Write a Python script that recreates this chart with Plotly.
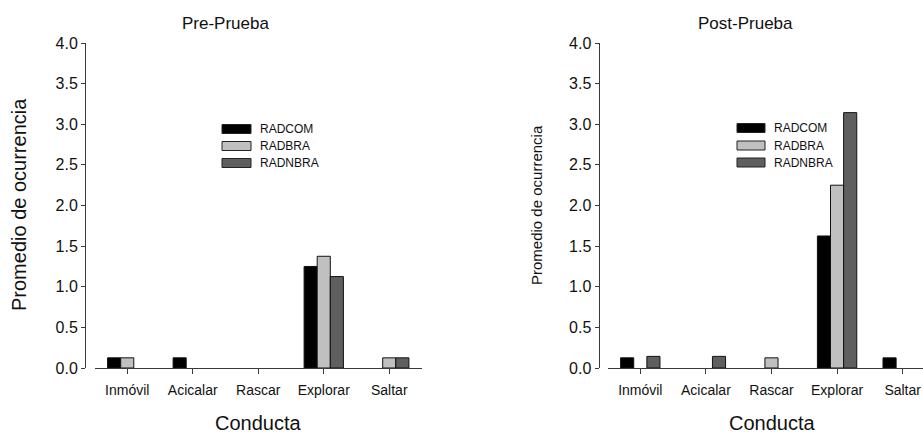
import plotly.graph_objects as go

W, H = 923, 434

# Behaviour categories
conductas = ["Inmóvil", "Acicalar", "Rascar", "Explorar", "Saltar"]
grupos = ["RADCOM", "RADBRA", "RADNBRA"]

# Mean occurrence per group, pre-test
pre_radcom = [0.125, 0.125, 0.0, 1.25, 0.0]
pre_radbra = [0.125, 0.0, 0.0, 1.375, 0.125]
pre_radnbra = [0.0, 0.0, 0.0, 1.125, 0.125]

# Mean occurrence per group, post-test
post_radcom = [0.125, 0.0, 0.0, 1.625, 0.125]
post_radbra = [0.0, 0.0, 0.125, 2.25, 0.0]
post_radnbra = [0.143, 0.143, 0.0, 3.143, 0.0]

y_ticks = [0, 0.5, 1.0, 1.5, 2.0, 2.5, 3.0, 3.5, 4.0]

colores = ["#000000", "#c0c0c0", "#5f5f5f"]
FONT = "Arial, Liberation Sans, sans-serif"
AXC = "#3a3a3a"


def px_x(x):
    return x / W


def px_y(y):
    return 1 - y / H


fig = go.Figure()

idx = list(range(len(conductas)))


def barras(series, xa, ya):
    for serie, nombre, col in zip(series, grupos, colores):
        # no outline on empty bars so they vanish into the baseline
        widths = [1 if v > 0 else 0 for v in serie]
        fig.add_trace(go.Bar(x=idx, y=serie, name=nombre,
                             marker=dict(color=col, line=dict(color="#111111", width=widths)),
                             xaxis=xa, yaxis=ya, showlegend=False))


barras([pre_radcom, pre_radbra, pre_radnbra], "x", "y")
barras([post_radcom, post_radbra, post_radnbra], "x2", "y2")

y_dom = [px_y(368), px_y(43)]

xcommon = dict(showline=True, linecolor=AXC, linewidth=1, ticks="outside", ticklen=5, tickcolor=AXC,
               tickvals=idx, ticktext=conductas, tickfont=dict(family=FONT, size=14, color="#111"),
               ticklabelstandoff=4, showgrid=False, zeroline=False, fixedrange=True, automargin=False)
ycommon = dict(range=[0, 4], tickvals=y_ticks, ticktext=[f"{v:.1f}" for v in y_ticks], showline=True,
               linecolor=AXC, linewidth=1, ticks="outside", ticklen=4, tickcolor=AXC,
               tickfont=dict(family=FONT, size=16, color="#111"), showgrid=False, zeroline=False,
               domain=y_dom, anchor="free", automargin=False, fixedrange=True)

fig.update_layout(
    width=W, height=H, autosize=False,
    margin=dict(l=0, r=0, t=0, b=0, pad=0, autoexpand=False),
    paper_bgcolor="white", plot_bgcolor="white",
    barmode="group", bargap=0.4, bargroupgap=0,
    xaxis=dict(domain=[px_x(94.5), px_x(422)], range=[-0.5, 4.5], anchor="y", **xcommon),
    yaxis=dict(position=px_x(85), **ycommon),
    xaxis2=dict(domain=[px_x(607.5), 1.0], range=[-0.5, 4.31], anchor="y2", **xcommon),
    yaxis2=dict(position=px_x(598.5), **ycommon),
)

ann = []
# panel titles
ann.append(dict(text="Pre-Prueba", x=px_x(225), y=px_y(24), font=dict(size=17)))
ann.append(dict(text="Post-Prueba", x=px_x(745), y=px_y(24), font=dict(size=17)))
# x titles
ann.append(dict(text="Conducta", x=px_x(258), y=px_y(423), font=dict(size=20)))
ann.append(dict(text="Conducta", x=px_x(772), y=px_y(423), font=dict(size=20)))
# y titles
ann.append(dict(text="Promedio de ocurrencia", x=px_x(19), y=px_y(205), textangle=-90, font=dict(size=20)))
ann.append(dict(text="Promedio de ocurrencia", x=px_x(536), y=px_y(205), textangle=-90, font=dict(size=15)))

shapes = []
# legend keys for each panel
for bx0, bx1, tx, rows in [(222, 251, 258, [129, 146, 163]), (737, 765, 772, [128, 145.5, 162.5])]:
    for nombre, col, yc in zip(grupos, colores, rows):
        shapes.append(dict(type="rect", xref="paper", yref="paper", x0=px_x(bx0), x1=px_x(bx1),
                           y0=px_y(yc + 4.5), y1=px_y(yc - 4.5), fillcolor=col,
                           line=dict(color="#222222", width=1)))
        ann.append(dict(text=nombre, x=px_x(tx), y=px_y(yc), xanchor="left", font=dict(size=12)))

for a in ann:
    a.setdefault("xanchor", "center")
    a.update(xref="paper", yref="paper", yanchor="middle", showarrow=False)
    a["font"] = dict(family=FONT, color="#111", **a["font"])

fig.update_layout(annotations=ann, shapes=shapes)

fig.write_html("out.html")
